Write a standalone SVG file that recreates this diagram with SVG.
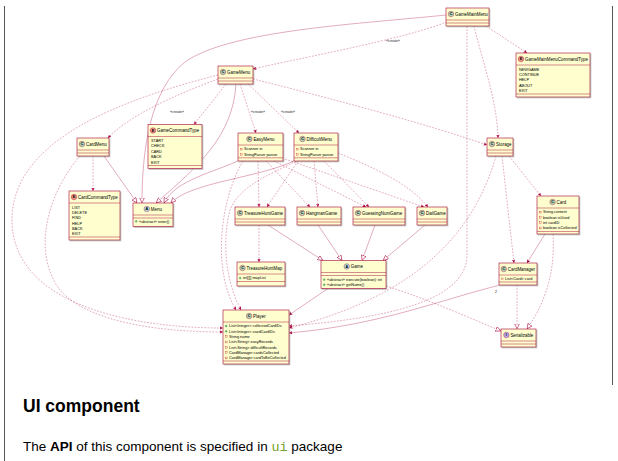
<svg xmlns="http://www.w3.org/2000/svg" width="618" height="461" viewBox="0 0 618 461">
<style>
.box{fill:#FEFECE;stroke:#A80036;stroke-width:0.6;filter:url(#sh)}
.sp{stroke:#A80036;stroke-width:0.45}
.nm{font-family:"Liberation Sans",Arial,sans-serif;font-size:4.45px;fill:#000}
.at{font-family:"Liberation Sans",Arial,sans-serif;font-size:3.85px;fill:#000}
.lb{font-family:"Liberation Sans",Arial,sans-serif;font-size:3.6px;fill:#222}
.lt{font-family:"Liberation Sans",Arial,sans-serif;font-size:3.8px;font-weight:bold;text-anchor:middle;fill:#000}
.cC{fill:#ADD1B2;stroke:#A80036;stroke-width:0.35}
.cE{fill:#EB937F;stroke:#A80036;stroke-width:0.35}
.cA{fill:#A9DCDF;stroke:#A80036;stroke-width:0.35}
.cI{fill:#B4A7E5;stroke:#A80036;stroke-width:0.35}
.pv{fill:none;stroke:#C82930;stroke-width:0.35}
.pu{fill:#84BE84;stroke:#038048;stroke-width:0.35}
.ln{fill:none;stroke:#A80036;stroke-width:0.6;stroke-opacity:0.55}
.dl{stroke-dasharray:1.8 1.4}
.ar{marker-end:url(#a)}
.tr{marker-end:url(#t)}
.page{font-family:"Liberation Sans",Arial,sans-serif;fill:#000}
</style>
<defs>
<filter id="sh" x="-10%" y="-10%" width="130%" height="130%"><feDropShadow dx="1" dy="1" stdDeviation="0.5" flood-color="#777" flood-opacity="0.5"/></filter>
<marker id="a" viewBox="0 0 6 6" refX="6" refY="3" markerWidth="3.5" markerHeight="3.5" orient="auto" markerUnits="userSpaceOnUse"><path d="M0,0 L6,3 L0,6 L1.5,3 z" fill="#A80036"/></marker>
<marker id="t" viewBox="0 0 8 8" refX="8" refY="4" markerWidth="5.5" markerHeight="5.5" orient="auto" markerUnits="userSpaceOnUse"><path d="M0.5,0.5 L7.5,4 L0.5,7.5 z" fill="#fff" stroke="#A80036" stroke-width="0.8"/></marker>
</defs>
<rect width="618" height="461" fill="#fff"/>
<line x1="4.5" y1="6" x2="4.5" y2="461" stroke="#555" stroke-width="1"/>
<line x1="612.5" y1="6" x2="612.5" y2="385" stroke="#555" stroke-width="1"/>

<g id="connectors">
<path class="ln tr" d="M446,15 C360,24 230,30 185,62 C150,90 142,150 142,203"/>
<path class="ln dl ar" d="M447,22 C400,40 300,58 253,69"/>
<text class="lb" x="386" y="41.5">«create»</text>
<path class="ln dl ar" d="M486,26 L527,53"/>
<path class="ln dl ar" d="M474,26 C482,60 497,100 498,138"/>
<path class="ln dl ar" d="M467,26 L467,255 C467,300 390,318 289,326"/>
<path class="ln dl ar" d="M226,84 L194,124.5"/>
<text class="lb" x="170" y="113">«create»</text>
<path class="ln dl ar" d="M218,79 C175,95 130,115 108,138"/>
<path class="ln dl ar" d="M240,84 L256,133"/>
<text class="lb" x="251" y="113">«create»</text>
<path class="ln dl ar" d="M248,84 L299,133"/>
<text class="lb" x="281" y="113">«create»</text>
<path class="ln tr" d="M236,84 C233,135 200,165 156,203"/>
<path class="ln dl ar" d="M253,79 C330,98 430,125 487,145"/>
<path class="ln dl ar" d="M218,75 C120,100 12,140 12,220 C12,300 120,328 223,328"/>
<path class="ln dl ar" d="M93,156 L93,191"/>
<path class="ln tr" d="M104,156 L137,203"/>
<path class="ln dl ar" d="M80,156 C50,190 30,250 60,290 C90,325 170,332 223,332"/>
<path class="ln tr" d="M240,160 C215,172 175,180 164,203"/>
<path class="ln tr" d="M296,160 C260,178 190,182 171,203"/>
<path class="ln dl ar" d="M258,161 L259,207"/>
<path class="ln dl ar" d="M266,161 L310,207"/>
<path class="ln dl ar" d="M274,161 L366,207"/>
<path class="ln dl ar" d="M282,158 L424,207"/>
<path class="ln dl ar" d="M298,161 L267,207"/>
<path class="ln dl ar" d="M314,161 L318,207"/>
<path class="ln dl ar" d="M324,161 L369,207"/>
<path class="ln dl ar" d="M338,153 C380,170 410,185 428,207"/>
<path class="ln dl ar" d="M243,161 C220,200 212,270 236,310"/>
<path class="ln dl ar" d="M296,161 C270,175 240,185 230,210 C222,240 225,280 241,310"/>
<path class="ln dl ar" d="M259,225 L259,262"/>
<path class="ln tr" d="M268,225 L323,260.5"/>
<path class="ln tr" d="M318,225 L342,260.5"/>
<path class="ln tr" d="M375,225 L362,260.5"/>
<path class="ln tr" d="M425,225 L383,260.5"/>
<path class="ln ar" d="M328,288.5 L289,315"/>
<path class="ln dl tr" d="M386,286 C430,300 470,318 501,331"/>
<path class="ln dl ar" d="M496,156 C475,230 420,295 289,328"/>
<path class="ln dl ar" d="M502,156 L514,263"/>
<path class="ln dl ar" d="M509,156 L541,196"/>
<path class="ln ar" d="M545,234 L527,263"/>
<path class="ln ar" d="M500,285 C440,300 380,325 289,333"/>
<text class="lb" x="495" y="293">2</text>
<path class="ln dl tr" d="M517,285 L517,329"/>
<path class="ln dl tr" d="M553,234 C556,280 540,310 527,329"/>
</g>

<g id="GameMainMenu">
<rect class="box" x="446" y="8" width="43" height="18"/>
<circle class="cC" cx="451" cy="14" r="2.8"/><text class="lt" x="451" y="15.4">C</text>
<text class="nm" x="455" y="15.6">GameMainMenu</text>
<line class="sp" x1="446" y1="20" x2="489" y2="20"/><line class="sp" x1="446" y1="23" x2="489" y2="23"/>
</g>

<g id="GameMainMenuCommandType">
<rect class="box" x="516" y="53" width="74" height="44"/>
<circle class="cE" cx="521" cy="59" r="2.8"/><text class="lt" x="521" y="60.4">E</text>
<text class="nm" x="525" y="60.6">GameMainMenuCommandType</text>
<line class="sp" x1="516" y1="65" x2="590" y2="65"/>
<text class="at" x="519" y="70.6">NEWGAME</text>
<text class="at" x="519" y="75.9">CONTINUE</text>
<text class="at" x="519" y="81.3">HELP</text>
<text class="at" x="519" y="86.6">ABOUT</text>
<text class="at" x="519" y="92">EXIT</text>
<line class="sp" x1="516" y1="94" x2="590" y2="94"/>
</g>

<g id="GameMenu">
<rect class="box" x="218" y="66" width="35" height="18"/>
<circle class="cC" cx="223" cy="72" r="2.8"/><text class="lt" x="223" y="73.4">C</text>
<text class="nm" x="227" y="73.6">GameMenu</text>
<line class="sp" x1="218" y1="78" x2="253" y2="78"/><line class="sp" x1="218" y1="81" x2="253" y2="81"/>
</g>

<g id="GameCommandType">
<rect class="box" x="148" y="124.5" width="54" height="44"/>
<circle class="cE" cx="153" cy="130.5" r="2.8"/><text class="lt" x="153" y="131.9">E</text>
<text class="nm" x="157" y="132.1">GameCommandType</text>
<line class="sp" x1="148" y1="136.5" x2="202" y2="136.5"/>
<text class="at" x="151" y="142.1">START</text>
<text class="at" x="151" y="147.4">CHECK</text>
<text class="at" x="151" y="152.8">CARD</text>
<text class="at" x="151" y="158.1">BACK</text>
<text class="at" x="151" y="163.5">EXIT</text>
<line class="sp" x1="148" y1="165.5" x2="202" y2="165.5"/>
</g>

<g id="CardMenu">
<rect class="box" x="77" y="138" width="32" height="18"/>
<circle class="cC" cx="82" cy="144" r="2.8"/><text class="lt" x="82" y="145.4">C</text>
<text class="nm" x="86" y="145.6">CardMenu</text>
<line class="sp" x1="77" y1="150" x2="109" y2="150"/><line class="sp" x1="77" y1="153" x2="109" y2="153"/>
</g>

<g id="CardCommandType">
<rect class="box" x="69" y="191" width="51" height="49"/>
<circle class="cE" cx="74" cy="197" r="2.8"/><text class="lt" x="74" y="198.4">E</text>
<text class="nm" x="78" y="198.6">CardCommandType</text>
<line class="sp" x1="69" y1="203" x2="120" y2="203"/>
<text class="at" x="72" y="208.6">LIST</text>
<text class="at" x="72" y="213.9">DELETE</text>
<text class="at" x="72" y="219.3">FIND</text>
<text class="at" x="72" y="224.6">HELP</text>
<text class="at" x="72" y="230">BACK</text>
<text class="at" x="72" y="235.3">EXIT</text>
<line class="sp" x1="69" y1="237" x2="120" y2="237"/>
</g>

<g id="Menu">
<rect class="box" x="133" y="203" width="40" height="23.5"/>
<circle class="cA" cx="146.8" cy="209" r="2.8"/><text class="lt" x="146.8" y="210.4">A</text>
<text class="nm" x="150.8" y="210.6">Menu</text>
<line class="sp" x1="133" y1="215" x2="173" y2="215"/><line class="sp" x1="133" y1="218" x2="173" y2="218"/>
<circle class="pu" cx="136.2" cy="221.3" r="0.9"/><text class="at" x="139" y="222.6">«abstract» enter()</text>
</g>

<g id="EasyMenu">
<rect class="box" x="238" y="133" width="45" height="28"/>
<circle class="cC" cx="249.4" cy="139" r="2.8"/><text class="lt" x="249.4" y="140.4">C</text>
<text class="nm" x="253.4" y="140.6">EasyMenu</text>
<line class="sp" x1="238" y1="145" x2="283" y2="145"/>
<rect class="pv" x="240.3" y="148.2" width="1.8" height="1.8"/><text class="at" x="244" y="150.4">Scanner in</text>
<rect class="pv" x="240.3" y="153.4" width="1.8" height="1.8"/><text class="at" x="244" y="155.6">StringParser parser</text>
<line class="sp" x1="238" y1="157.8" x2="283" y2="157.8"/>
</g>

<g id="DifficultMenu">
<rect class="box" x="294" y="133" width="44" height="28"/>
<circle class="cC" cx="302.5" cy="139" r="2.8"/><text class="lt" x="302.5" y="140.4">C</text>
<text class="nm" x="306.5" y="140.6">DifficultMenu</text>
<line class="sp" x1="294" y1="145" x2="338" y2="145"/>
<rect class="pv" x="296.3" y="148.2" width="1.8" height="1.8"/><text class="at" x="300" y="150.4">Scanner in</text>
<rect class="pv" x="296.3" y="153.4" width="1.8" height="1.8"/><text class="at" x="300" y="155.6">StringParser parser</text>
<line class="sp" x1="294" y1="157.8" x2="338" y2="157.8"/>
</g>

<g id="Storage">
<rect class="box" x="487" y="138" width="26" height="18"/>
<circle class="cC" cx="492" cy="144" r="2.8"/><text class="lt" x="492" y="145.4">C</text>
<text class="nm" x="496" y="145.6">Storage</text>
<line class="sp" x1="487" y1="150" x2="513" y2="150"/><line class="sp" x1="487" y1="153" x2="513" y2="153"/>
</g>

<g id="Card">
<rect class="box" x="537" y="196" width="42" height="38"/>
<circle class="cC" cx="552.6" cy="202" r="2.8"/><text class="lt" x="552.6" y="203.4">C</text>
<text class="nm" x="556.6" y="203.6">Card</text>
<line class="sp" x1="537" y1="208" x2="579" y2="208"/>
<rect class="pv" x="539.3" y="211.2" width="1.8" height="1.8"/><text class="at" x="543" y="213.4">String content</text>
<rect class="pv" x="539.3" y="216.5" width="1.8" height="1.8"/><text class="at" x="543" y="218.7">boolean isUsed</text>
<rect class="pv" x="539.3" y="221.8" width="1.8" height="1.8"/><text class="at" x="543" y="224">int cardID</text>
<rect class="pv" x="539.3" y="227.1" width="1.8" height="1.8"/><text class="at" x="543" y="229.3">boolean isCollected</text>
<line class="sp" x1="537" y1="231.5" x2="579" y2="231.5"/>
</g>

<g id="TreasureHuntGame">
<rect class="box" x="235" y="207" width="50" height="18"/>
<circle class="cC" cx="240" cy="213" r="2.8"/><text class="lt" x="240" y="214.4">C</text>
<text class="nm" x="244" y="214.6">TreasureHuntGame</text>
<line class="sp" x1="235" y1="219" x2="285" y2="219"/><line class="sp" x1="235" y1="222" x2="285" y2="222"/>
</g>

<g id="HangmanGame">
<rect class="box" x="297" y="207" width="44" height="18"/>
<circle class="cC" cx="302" cy="213" r="2.8"/><text class="lt" x="302" y="214.4">C</text>
<text class="nm" x="306" y="214.6">HangmanGame</text>
<line class="sp" x1="297" y1="219" x2="341" y2="219"/><line class="sp" x1="297" y1="222" x2="341" y2="222"/>
</g>

<g id="GuessingNumGame">
<rect class="box" x="353" y="207" width="52" height="18"/>
<circle class="cC" cx="358" cy="213" r="2.8"/><text class="lt" x="358" y="214.4">C</text>
<text class="nm" x="362" y="214.6">GuessingNumGame</text>
<line class="sp" x1="353" y1="219" x2="405" y2="219"/><line class="sp" x1="353" y1="222" x2="405" y2="222"/>
</g>

<g id="DailGame">
<rect class="box" x="417" y="207" width="30" height="18"/>
<circle class="cC" cx="422" cy="213" r="2.8"/><text class="lt" x="422" y="214.4">C</text>
<text class="nm" x="426" y="214.6">DailGame</text>
<line class="sp" x1="417" y1="219" x2="447" y2="219"/><line class="sp" x1="417" y1="222" x2="447" y2="222"/>
</g>

<g id="Game">
<rect class="box" x="321" y="260.5" width="65" height="28"/>
<circle class="cA" cx="346.8" cy="266.5" r="2.8"/><text class="lt" x="346.8" y="267.9">A</text>
<text class="nm" x="350.8" y="268.1">Game</text>
<line class="sp" x1="321" y1="272.5" x2="386" y2="272.5"/><line class="sp" x1="321" y1="275.5" x2="386" y2="275.5"/>
<circle class="pu" cx="324.2" cy="279.6" r="0.9"/><text class="at" x="327" y="280.9">«abstract» execute(boolean): int</text>
<circle class="pu" cx="324.2" cy="284.7" r="0.9"/><text class="at" x="327" y="286">«abstract» getName()</text>
</g>

<g id="TreasureHuntMap">
<rect class="box" x="237" y="262" width="48" height="24"/>
<circle class="cC" cx="242.5" cy="268" r="2.8"/><text class="lt" x="242.5" y="269.4">C</text>
<text class="nm" x="246.5" y="269.6">TreasureHuntMap</text>
<line class="sp" x1="237" y1="274" x2="285" y2="274"/>
<circle class="pu" cx="240.2" cy="278.1" r="0.9"/><text class="at" x="243" y="279.4">int[][] mapList</text>
<line class="sp" x1="237" y1="281.5" x2="285" y2="281.5"/>
</g>

<g id="CardManager">
<rect class="box" x="499" y="263" width="38" height="22"/>
<circle class="cC" cx="503.8" cy="269" r="2.8"/><text class="lt" x="503.8" y="270.4">C</text>
<text class="nm" x="507.8" y="270.6">CardManager</text>
<line class="sp" x1="499" y1="275" x2="537" y2="275"/>
<rect class="pv" x="501.3" y="278" width="1.8" height="1.8"/><text class="at" x="505" y="280.2">List&lt;Card&gt; card</text>
<line class="sp" x1="499" y1="282" x2="537" y2="282"/>
</g>

<g id="Player">
<rect class="box" x="223" y="310" width="66" height="54"/>
<circle class="cC" cx="249.1" cy="316" r="2.8"/><text class="lt" x="249.1" y="317.4">C</text>
<text class="nm" x="253.1" y="317.6">Player</text>
<line class="sp" x1="223" y1="322" x2="289" y2="322"/>
<circle class="pu" cx="226.2" cy="326" r="0.9"/><text class="at" x="229" y="327.3">List&lt;Integer&gt; collectedCardIDs</text>
<circle class="pu" cx="226.2" cy="331.3" r="0.9"/><text class="at" x="229" y="332.6">List&lt;Integer&gt; usedCardIDs</text>
<rect class="pv" x="225.3" y="335.8" width="1.8" height="1.8"/><text class="at" x="229" y="338">String name</text>
<rect class="pv" x="225.3" y="341.1" width="1.8" height="1.8"/><text class="at" x="229" y="343.3">List&lt;String&gt; easyRecords</text>
<rect class="pv" x="225.3" y="346.4" width="1.8" height="1.8"/><text class="at" x="229" y="348.6">List&lt;String&gt; difficultRecords</text>
<rect class="pv" x="225.3" y="351.8" width="1.8" height="1.8"/><text class="at" x="229" y="354">CardManager cardsCollected</text>
<rect class="pv" x="225.3" y="357.1" width="1.8" height="1.8"/><text class="at" x="229" y="359.3">CardManager cardToBeCollected</text>
<line class="sp" x1="223" y1="361" x2="289" y2="361"/>
</g>

<g id="Serializable">
<rect class="box" x="501" y="329" width="35" height="18"/>
<circle class="cI" cx="506.4" cy="335" r="2.8"/><text class="lt" x="506.4" y="336.4">I</text>
<text class="nm" x="510.4" y="336.6">Serializable</text>
<line class="sp" x1="501" y1="341" x2="536" y2="341"/><line class="sp" x1="501" y1="344" x2="536" y2="344"/>
</g>

<text class="page" x="23" y="412" font-size="17.5" font-weight="bold">UI component</text>
<text class="page" x="23" y="450.5" font-size="13.5">The <tspan font-weight="bold">API</tspan> of this component is specified in <tspan font-family="'Liberation Mono',monospace" fill="#76a12d">ui</tspan> package</text>
</svg>
